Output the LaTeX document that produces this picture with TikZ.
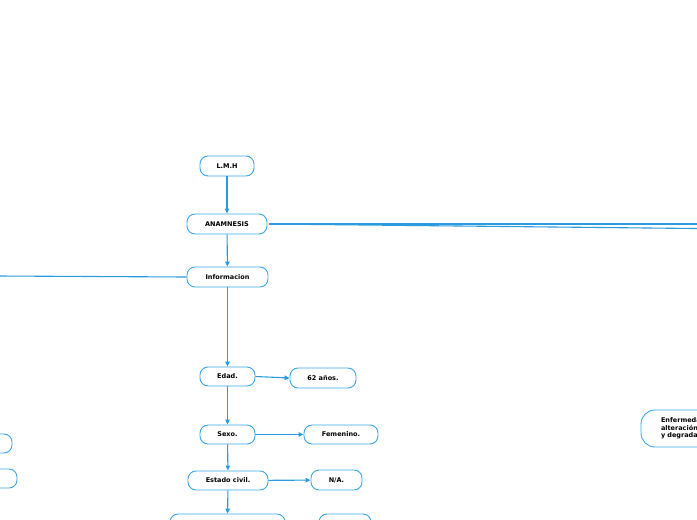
\documentclass[tikz,border=0pt]{standalone}
\usepackage{fontspec}
\setmainfont{DejaVu Sans}
\usetikzlibrary{arrows.meta}
\definecolor{edgeblue}{HTML}{2A9BDF}
\definecolor{boxblue}{HTML}{3BA7E8}
\tikzset{
  box/.style={draw=boxblue, line width=0.9pt, rounded corners=8pt, fill=white,
    font=\fontsize{6.5}{7.5}\selectfont\bfseries, inner sep=1pt, minimum height=20pt, align=center},
  conn/.style={draw=edgeblue, line width=1.1pt, -{Triangle[width=4.5pt,length=5pt]}},
  plain/.style={draw=edgeblue, line width=1.1pt},
}
\begin{document}
\begin{tikzpicture}[x=1pt,y=-1pt]
\useasboundingbox (0,0) rectangle (697,520);
\clip (0,0) rectangle (697,520);
\node[box, minimum width=54pt] (lmh) at (227,166) {L.M.H};
\node[box, minimum width=80pt] (anam) at (227,224) {ANAMNESIS};
\node[box, minimum width=81pt] (info) at (227.5,277) {Informacion};
\node[box, minimum width=55pt, minimum height=19pt] (edad) at (227.5,376.5) {Edad.};
\node[box, minimum width=66pt] (anos) at (323,378) {62 años.};
\node[box, minimum width=55pt, minimum height=19pt] (sexo) at (227.5,434.5) {Sexo.};
\node[box, minimum width=74pt, minimum height=19pt] (fem) at (341,434.5) {Femenino.};
\node[box, minimum width=80pt, minimum height=19pt] (civil) at (228,480.5) {Estado civil.};
\node[box, minimum width=51pt] (na) at (336.5,480) {N/A.};
\node[box, minimum width=115pt] (bot1) at (227.5,524) {};
\node[box, minimum width=52pt] (bot2) at (345,524) {};
\node[box, minimum width=60pt, minimum height=19pt] (left1) at (-18,443.5) {};
\node[box, minimum width=60pt, minimum height=19pt] (left2) at (-13,478.5) {};
\node[box, minimum width=118pt, minimum height=37pt, rounded corners=14pt, align=left, text width=78pt] (enf) at (700,428.5) {Enfermedad\\alteración\\y degradación};
\coordinate (r1) at (780,224);
\coordinate (r2) at (780,229.4);
\coordinate (l1) at (-40,275.8);
\draw[conn] (lmh) -- (anam);
\draw[conn] (anam) -- (info);
\draw[conn] (info.south) -- (edad.north);
\draw[conn] (edad.east) -- (anos.west);
\draw[conn] (edad) -- (sexo);
\draw[conn] (sexo) -- (fem);
\draw[conn] (sexo) -- (civil);
\draw[conn] (civil) -- (na);
\draw[conn] (civil) -- (bot1);
\draw[plain] ([xshift=1.5pt]anam.east) -- (r1);
\draw[plain] ([xshift=1.5pt]anam.east) -- (r2);
\draw[plain] (info.west) -- (l1);
\end{tikzpicture}
\end{document}
